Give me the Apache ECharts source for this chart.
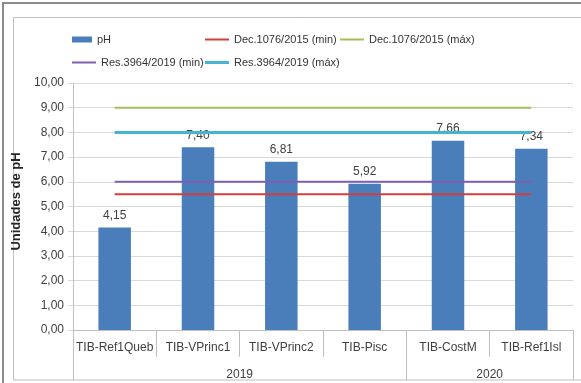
<!DOCTYPE html>
<html>
<head>
<meta charset="utf-8">
<script src="https://cdn.jsdelivr.net/npm/echarts@6/dist/echarts.min.js"></script>
<style>
html,body{margin:0;padding:0;background:#fff;}
#main{width:581px;height:383px;}
</style>
</head>
<body>
<div id="main"></div>
<script>
var categories = ['TIB-Ref1Queb', 'TIB-VPrinc1', 'TIB-VPrinc2', 'TIB-Pisc', 'TIB-CostM', 'TIB-Ref1Isl'];
var phValues = [4.15, 7.40, 6.81, 5.92, 7.66, 7.34];
var decMin = [5.5, 5.5, 5.5, 5.5, 5.5, 5.5];
var decMax = [9, 9, 9, 9, 9, 9];
var resMin = [6, 6, 6, 6, 6, 6];
var resMax = [8, 8, 8, 8, 8, 8];
var years = ['2019', '2020'];
var yearCounts = [4, 2];
var yTicks = [0, 1, 2, 3, 4, 5, 6, 7, 8, 9, 10];

var yearBounds = [0];
var yearCenters = [];
yearCounts.forEach(function (c) {
  var start = yearBounds[yearBounds.length - 1];
  yearCenters.push(start + c / 2);
  yearBounds.push(start + c);
});

function fmt(v) { return Number(v).toFixed(2).replace('.', ','); }

var FONT = 'Liberation Sans, Arial, sans-serif';
var chart = echarts.init(document.getElementById('main'), null, { renderer: 'canvas' });

function lineSeries(name, data, color, width) {
  return {
    name: name, type: 'line', data: data, xAxisIndex: 0, yAxisIndex: 0,
    symbol: 'none', showSymbol: false, silent: true,
    lineStyle: { color: color, width: width },
    itemStyle: { color: color },
    z: 3
  };
}

var legendBase = {
  itemWidth: 24, itemHeight: 2, itemGap: 5, icon: 'rect',
  textStyle: { fontFamily: FONT, fontSize: 11, color: '#333' },
  padding: 0
};
function lg(name, left, top, extra) {
  return Object.assign({}, legendBase, { data: [name], left: left, top: top }, extra || {});
}

chart.setOption({
  animation: false,
  backgroundColor: '#fff',
  graphic: [
    { type: 'rect', shape: { x: 3, y: 3, width: 620, height: 420 }, style: { fill: 'none', stroke: '#8c8c8c', lineWidth: 2 }, z: 0 },
    { type: 'rect', shape: { x: 13.5, y: 17.5, width: 600, height: 362.5 }, style: { fill: 'none', stroke: '#bfbfbf', lineWidth: 1 }, z: 0 }
  ],
  legend: [
    lg('pH', 72, 34, { itemWidth: 20, itemHeight: 6 }),
    lg('Dec.1076/2015 (min)', 205, 34),
    lg('Dec.1076/2015 (máx)', 340, 34),
    lg('Res.3964/2019 (min)', 72, 57),
    lg('Res.3964/2019 (máx)', 205, 57, { itemHeight: 3 })
  ],
  grid: { left: 73, right: 8, top: 83, bottom: 53 },
  xAxis: [
    {
      type: 'category', data: categories, position: 'bottom',
      boundaryGap: true,
      axisLine: { lineStyle: { color: '#bfbfbf' } },
      axisTick: { show: true, interval: 0, length: 27, alignWithLabel: false, lineStyle: { color: '#bfbfbf' } },
      axisLabel: { interval: 0, margin: 12, fontFamily: FONT, fontSize: 12, color: '#404040' },
      splitLine: { show: false }
    },
    {
      type: 'value', min: 0, max: categories.length, position: 'bottom',
      axisLine: { show: false },
      splitLine: { show: false },
      axisTick: { show: true, customValues: yearBounds, length: 50, lineStyle: { color: '#bfbfbf' } },
      axisLabel: {
        customValues: yearCenters, margin: 39, fontFamily: FONT, fontSize: 12, color: '#404040',
        formatter: function (v) { var i = yearCenters.indexOf(v); return i >= 0 ? years[i] : ''; }
      }
    }
  ],
  yAxis: {
    type: 'value', min: yTicks[0], max: yTicks[yTicks.length - 1], interval: 1,
    name: 'Unidades de pH', nameLocation: 'middle', nameGap: 47,
    nameTextStyle: { fontFamily: FONT, fontSize: 13, fontWeight: 'bold', color: '#262626', padding: [0, 0, 0, 10] },
    axisLine: { show: true, lineStyle: { color: '#bfbfbf' } },
    axisTick: { show: true, length: 5, lineStyle: { color: '#d9d9d9' } },
    axisLabel: { formatter: fmt, fontFamily: FONT, fontSize: 12, color: '#404040', margin: 9 },
    splitLine: { show: true, lineStyle: { color: '#d9d9d9', width: 1 } }
  },
  series: [
    {
      name: 'pH', type: 'bar', data: phValues, barWidth: '39%',
      itemStyle: { color: '#4a7ebb' },
      label: { show: true, position: 'top', distance: 6, formatter: function (p) { return fmt(p.value); }, fontFamily: FONT, fontSize: 12, color: '#404040' },
      z: 2
    },
    lineSeries('Dec.1076/2015 (min)', decMin, '#d33f3c', 2),
    lineSeries('Dec.1076/2015 (máx)', decMax, '#9bc158', 2),
    lineSeries('Res.3964/2019 (min)', resMin, '#7f5fb0', 2),
    lineSeries('Res.3964/2019 (máx)', resMax, '#45b4d3', 3)
  ]
});
</script>
</body>
</html>
